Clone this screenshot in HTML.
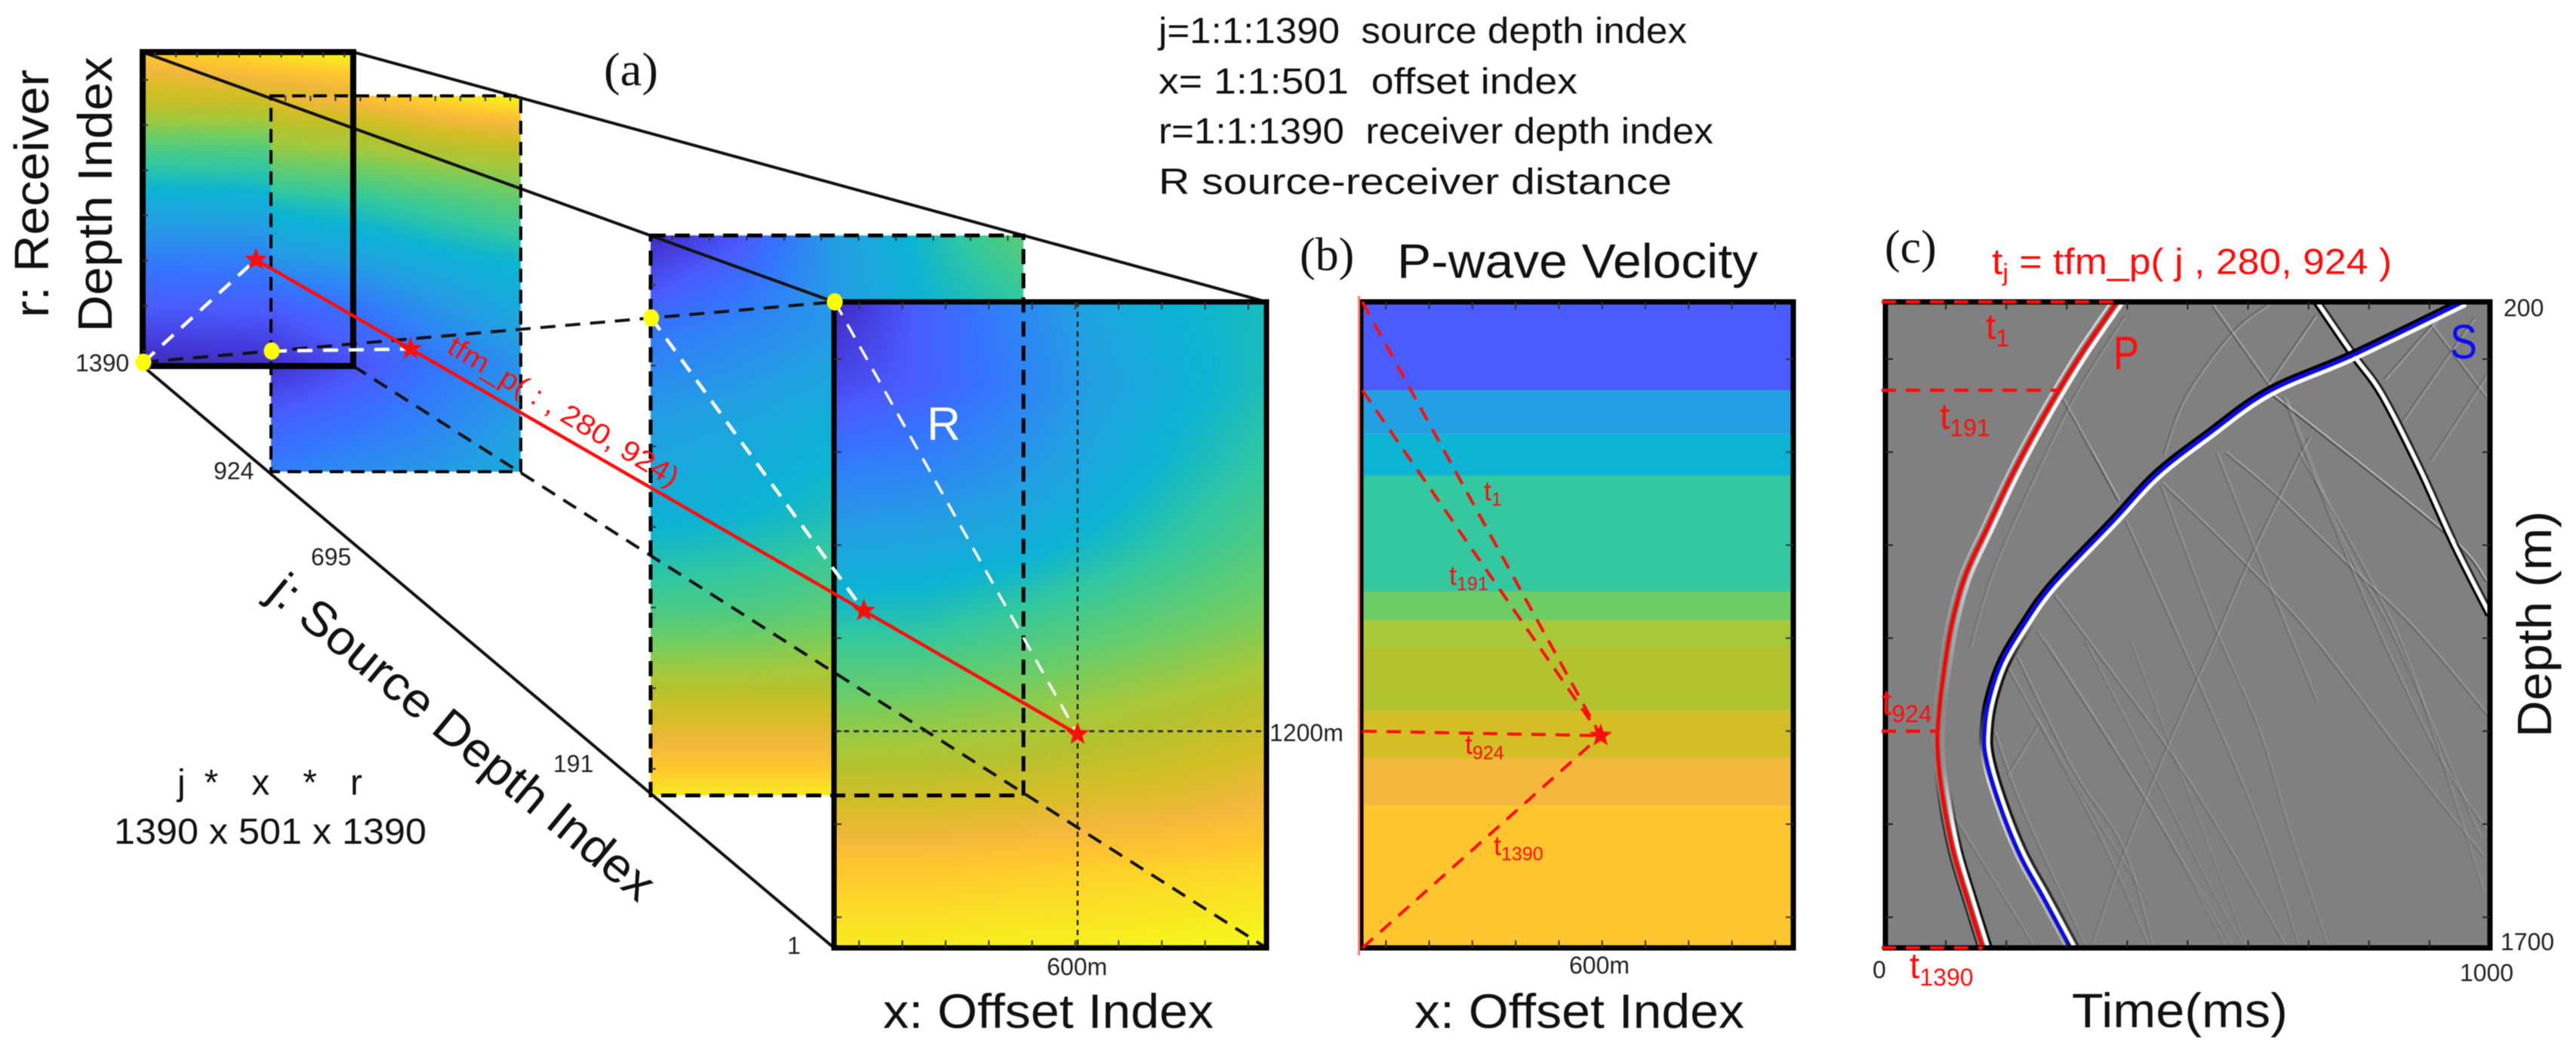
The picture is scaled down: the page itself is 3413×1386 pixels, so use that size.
<!DOCTYPE html>
<html lang="en">
<head>
<meta charset="utf-8">
<title>Travel-time table, P-wave velocity model and seismic gather</title>
<style>
html,body{margin:0;padding:0;background:#fff;width:3413px;height:1386px;overflow:hidden}
#stage{position:relative;width:3413px;height:1386px;filter:blur(.6px)}
canvas,svg{position:absolute;left:0;top:0}
text{font-family:"Liberation Sans",sans-serif;fill:#111}
.serif{font-family:"Liberation Serif",serif;font-size:62px}
.axis{font-size:64px}
.tick{font-size:32px;fill:#222}
.note{font-size:48px}
.red{fill:#ff0d0d}
</style>
</head>
<body>
<div id="stage">
<canvas id="fields" width="3413" height="1386"></canvas>
<svg id="plot" width="3413" height="1386" viewBox="0 0 3413 1386" xmlns="http://www.w3.org/2000/svg">
  <defs>
    <clipPath id="gatherClip"><rect x="2498" y="400" width="801" height="856"/></clipPath>
    <linearGradient id="fadeGrad" gradientUnits="userSpaceOnUse" x1="0" y1="400" x2="0" y2="1256">
      <stop offset="0" stop-color="#fff"/><stop offset=".45" stop-color="#ccc"/><stop offset="1" stop-color="#666"/>
    </linearGradient>
    <mask id="fadeMask" maskUnits="userSpaceOnUse" x="2498" y="400" width="801" height="856">
      <rect x="2498" y="400" width="801" height="856" fill="url(#fadeGrad)"/>
    </mask>
    <linearGradient id="pRightLight" gradientUnits="userSpaceOnUse" x1="0" y1="400" x2="0" y2="1256">
      <stop offset="0" stop-color="#fff" stop-opacity=".95"/><stop offset=".35" stop-color="#fff" stop-opacity=".85"/><stop offset=".5" stop-color="#fff" stop-opacity=".35"/><stop offset=".62" stop-color="#fff" stop-opacity=".08"/><stop offset=".72" stop-color="#fff" stop-opacity=".15"/><stop offset=".82" stop-color="#fff" stop-opacity=".95"/><stop offset="1" stop-color="#fff" stop-opacity="1"/>
    </linearGradient>
    <linearGradient id="pLeftLight" gradientUnits="userSpaceOnUse" x1="0" y1="400" x2="0" y2="1256">
      <stop offset="0" stop-color="#fff" stop-opacity=".7"/><stop offset=".35" stop-color="#fff" stop-opacity=".45"/><stop offset=".55" stop-color="#fff" stop-opacity=".12"/><stop offset=".7" stop-color="#fff" stop-opacity="0"/><stop offset="1" stop-color="#fff" stop-opacity="0"/>
    </linearGradient>
    <linearGradient id="pLeftDark" gradientUnits="userSpaceOnUse" x1="0" y1="400" x2="0" y2="1256">
      <stop offset="0" stop-color="#000" stop-opacity="0"/><stop offset=".72" stop-color="#000" stop-opacity="0"/><stop offset=".8" stop-color="#000" stop-opacity=".6"/><stop offset="1" stop-color="#000" stop-opacity=".7"/>
    </linearGradient>
    <linearGradient id="pRightDark" gradientUnits="userSpaceOnUse" x1="0" y1="400" x2="0" y2="1256">
      <stop offset="0" stop-color="#000" stop-opacity="0"/><stop offset=".75" stop-color="#000" stop-opacity="0"/><stop offset=".85" stop-color="#000" stop-opacity=".8"/><stop offset="1" stop-color="#000" stop-opacity=".9"/>
    </linearGradient>
    <linearGradient id="sLeftDark" gradientUnits="userSpaceOnUse" x1="0" y1="400" x2="0" y2="1256">
      <stop offset="0" stop-color="#000" stop-opacity="1"/><stop offset=".62" stop-color="#000" stop-opacity="1"/><stop offset=".7" stop-color="#000" stop-opacity=".1"/><stop offset="1" stop-color="#000" stop-opacity="0"/>
    </linearGradient>
    <linearGradient id="sLeftLight" gradientUnits="userSpaceOnUse" x1="0" y1="400" x2="0" y2="1256">
      <stop offset="0" stop-color="#fff" stop-opacity="0"/><stop offset=".68" stop-color="#fff" stop-opacity="0"/><stop offset=".74" stop-color="#fff" stop-opacity=".75"/><stop offset="1" stop-color="#fff" stop-opacity=".35"/>
    </linearGradient>
    <linearGradient id="sRightDark" gradientUnits="userSpaceOnUse" x1="0" y1="400" x2="0" y2="1256">
      <stop offset="0" stop-color="#000" stop-opacity="0"/><stop offset=".5" stop-color="#000" stop-opacity="0"/><stop offset=".56" stop-color="#000" stop-opacity=".8"/><stop offset=".7" stop-color="#000" stop-opacity=".9"/><stop offset="1" stop-color="#000" stop-opacity=".55"/>
    </linearGradient>
  </defs>

  <!-- panel (a) prism edges -->
  <g fill="none" stroke="#111">
    <line x1="189" y1="69" x2="1105" y2="400" stroke-width="4"/>
    <line x1="468" y1="69" x2="1678" y2="400" stroke-width="4"/>
    <line x1="189" y1="485" x2="1105" y2="1256" stroke-width="4"/>
    <line x1="468" y1="485" x2="1678" y2="1256" stroke-width="4" stroke-dasharray="20 13"/>
    <line x1="190" y1="480" x2="1106" y2="400" stroke-width="4" stroke-dasharray="20 13"/>
  </g>
  <g fill="none" stroke="#000">
    <rect x="189" y="69" width="279" height="416" stroke-width="8"/>
    <rect x="359" y="127" width="331" height="498" stroke-width="4" stroke-dasharray="18 10"/>
    <rect x="862" y="312" width="494" height="742" stroke-width="5" stroke-dasharray="20 12"/>
    <rect x="1105" y="400" width="573" height="856" stroke-width="7"/>
  </g>
  <g id="sliceTicks"></g>
  <g id="sliceGuides"></g>
  <g id="sliceRays"></g>

  <!-- panel (b) -->
  <g id="velocityBands"></g>
  <rect x="1803" y="400" width="573" height="856" fill="none" stroke="#000" stroke-width="7"/>
  <line x1="1800.5" y1="392" x2="1800.5" y2="1266" stroke="#ff7a7a" stroke-width="3"/>
  <g id="velocityTicks"></g>
  <g id="velocityRays"></g>

  <!-- panel (c) -->
  <rect x="2498" y="400" width="801" height="856" fill="#808080"/>
  <g clip-path="url(#gatherClip)">
    <g id="gatherEvents" mask="url(#fadeMask)"></g>
  </g>
  <g id="gatherMain" clip-path="url(#gatherClip)"></g>
  <g id="gatherPicks" clip-path="url(#gatherClip)"></g>
  <rect x="2498" y="400" width="801" height="856" fill="none" stroke="#000" stroke-width="7"/>
  <g id="gatherTicks"></g>
  <g id="gatherGuides"></g>

  <!-- text -->
  <text class="serif" x="800" y="113" textLength="72" lengthAdjust="spacingAndGlyphs">(a)</text>
  <text class="serif" x="1722" y="358">(b)</text>
  <text class="serif" x="2497" y="348">(c)</text>

  <text class="note" x="1535" y="57" textLength="700" lengthAdjust="spacingAndGlyphs" xml:space="preserve">j=1:1:1390  source depth index</text>
  <text class="note" x="1535" y="124" textLength="555" lengthAdjust="spacingAndGlyphs" xml:space="preserve">x= 1:1:501  offset index</text>
  <text class="note" x="1535" y="190" textLength="735" lengthAdjust="spacingAndGlyphs" xml:space="preserve">r=1:1:1390  receiver depth index</text>
  <text class="note" x="1535" y="257" textLength="680" lengthAdjust="spacingAndGlyphs">R source-receiver distance</text>

  <text class="axis" transform="translate(64,421) rotate(-90)" textLength="329" lengthAdjust="spacingAndGlyphs">r: Receiver</text>
  <text class="axis" transform="translate(148,440) rotate(-90)" textLength="365" lengthAdjust="spacingAndGlyphs">Depth Index</text>
  <text class="axis" transform="translate(352,790) rotate(39.5)" textLength="640" lengthAdjust="spacingAndGlyphs">j: Source Depth Index</text>
  <text class="axis" x="1170" y="1362" textLength="438" lengthAdjust="spacingAndGlyphs">x: Offset Index</text>
  <text class="axis" x="1874" y="1362" textLength="437" lengthAdjust="spacingAndGlyphs">x: Offset Index</text>
  <text class="axis" x="1851" y="368" textLength="478" lengthAdjust="spacingAndGlyphs">P-wave Velocity</text>
  <text class="axis" x="2745" y="1361" textLength="286" lengthAdjust="spacingAndGlyphs">Time(ms)</text>
  <text class="axis" transform="translate(3380,977) rotate(-90)" textLength="300" lengthAdjust="spacingAndGlyphs">Depth (m)</text>

  <text class="note" x="235" y="1053" textLength="245" lengthAdjust="spacing" xml:space="preserve">j *  x  *  r</text>
  <text class="note" x="151" y="1118" textLength="414" lengthAdjust="spacingAndGlyphs">1390 x 501 x 1390</text>

  <text class="tick" x="100" y="492">1390</text>
  <text class="tick" x="283" y="635">924</text>
  <text class="tick" x="412" y="749">695</text>
  <text class="tick" x="733" y="1023">191</text>
  <text class="tick" x="1043" y="1264">1</text>
  <text class="tick" x="1682" y="982">1200m</text>
  <text class="tick" x="1387" y="1292">600m</text>
  <text class="tick" x="2079" y="1290">600m</text>
  <text class="tick" x="3317" y="419">200</text>
  <text class="tick" x="3313" y="1259">1700</text>
  <text class="tick" x="2481" y="1296">0</text>
  <text class="tick" x="3259" y="1300">1000</text>

  <text x="1228" y="583" font-size="62" style="fill:#fff">R</text>
  <text class="red" transform="translate(590,466) rotate(31)" font-size="38" textLength="350" lengthAdjust="spacingAndGlyphs" xml:space="preserve">tfm_p( : , 280, 924)</text>

  <text class="red" x="1966" y="663" font-size="36">t<tspan font-size="25" dy="7">1</tspan></text>
  <text class="red" x="1920" y="775" font-size="36">t<tspan font-size="25" dy="7">191</tspan></text>
  <text class="red" x="1941" y="999" font-size="36">t<tspan font-size="25" dy="7">924</tspan></text>
  <text class="red" x="1979" y="1133" font-size="36">t<tspan font-size="25" dy="7">1390</tspan></text>

  <text class="red" x="2639" y="363" font-size="48" textLength="530" lengthAdjust="spacingAndGlyphs">t<tspan font-size="32" dy="9">j</tspan><tspan dy="-9"> = tfm_p( j , 280, 924 )</tspan></text>
  <text class="red" x="2631" y="449" font-size="48">t<tspan font-size="32" dy="10">1</tspan></text>
  <text class="red" x="2570" y="568" font-size="48">t<tspan font-size="32" dy="10">191</tspan></text>
  <text class="red" x="2493" y="947" font-size="48">t<tspan font-size="32" dy="10">924</tspan></text>
  <text class="red" x="2530" y="1296" font-size="48">t<tspan font-size="32" dy="10">1390</tspan></text>
  <text class="red" x="2800" y="489" font-size="62" textLength="34" lengthAdjust="spacingAndGlyphs">P</text>
  <text x="3246" y="475" font-size="64" textLength="36" lengthAdjust="spacingAndGlyphs" style="fill:#0a0aff">S</text>
</svg>
</div>

<script>
/* ---------- data ---------- */
// Normalised travel-time grids: rows run top to bottom, columns left to right.
const fieldJ1390 = [
  [.94,.97,1.0],
  [.84,.85,.87],
  [.62,.63,.65],
  [.46,.47,.49],
  [.30,.31,.33],
  [.17,.18,.20],
  [.02,.04,.07]
];
const fieldJ924 = [
  [.90,.93,.97,1.0],
  [.76,.78,.82,.84],
  [.55,.58,.63,.68],
  [.40,.44,.50,.54],
  [.18,.27,.38,.47],
  [.05,.16,.28,.38],
  [.20,.26,.33,.42],
  [.31,.36,.40,.47]
];
const fieldJ191 = [
  [.03,.18,.42,.55,.68],
  [.28,.34,.40,.52,.56],
  [.42,.45,.50,.58,.68],
  [.50,.52,.56,.62,.72],
  [.64,.65,.68,.72,.78],
  [.85,.85,.85,.86,.87],
  [.98,.98,.98,.98,.98]
];
const fieldJ1 = [
  [.02,.20,.32,.45,.52,.55],
  [.13,.20,.30,.42,.50,.56],
  [.30,.32,.38,.46,.54,.60],
  [.44,.45,.48,.54,.60,.66],
  [.58,.58,.62,.66,.70,.74],
  [.72,.73,.75,.78,.81,.84],
  [.85,.85,.86,.87,.88,.90],
  [.94,.94,.945,.95,.955,.96],
  [.985,.985,.99,.99,.995,1.0]
];

// Layered P-wave velocity model
const layerBaseDepths = [405,507,603,873,939,1001,1151,1260,1370,1700];
const layerVelocities = [2070,2760,3060,3300,3630,3870,3960,4110,4230,4320];

// Acquisition indices
const offsetIndex = 280;
const receiverIndex = 924;
const raySourceIndices = [1,191,924,1390];
const offsetTickIndices = [30,80,130,180,230,280,330,380,430,480];
const depthTickIndices = [124,324,524,724,924,1124,1324];
const timeTicks = [100,200,300,400,500,600,700,800,900];

// First-arrival picks: time in ms, depth in m
const pPickTimes  = [383,327,283,242,205,168,132,109,95,88,86,92,111,136,161];
const pPickDepths = [200,314,414,515,615,726,836,953,1076,1164,1229,1323,1469,1588,1700];
const sPickTimes  = [955,774,635,534,448,377,276,227,192,172,164,166,190,223,261,306];
const sPickDepths = [200,323,407,507,601,708,857,953,1037,1120,1190,1258,1372,1486,1583,1700];
const downgoingTimes  = [714,774,821,884,941,999];
const downgoingDepths = [200,323,414,587,763,924];

// Converted and reflected events: [times], [depths], strength
const eventTimes = [
  [639,926,994],[564,648,764,876,999],[458,597,710,855,989],[398,514,618,683],
  [281,377,468,552,664],[456,543,618,668,733],[340,393,464,544,598,680,702],
  [461,497,573,635],[635,712],[542,635],[295,386],[218,311,393,443],
  [265,393,498,573],[331,436,539,595],[202,343,436],[181,227,331],[202,252],
  [115,243],[406,487,597],[903,994],[826,936],[855,974],[903,994],
  [664,759,845,984],[659,735,816,914,994],[685,805,876,989],[548,614,714],
  [252,336,461,564],[252,336,439],[343,386],[396,317,243,177,140]
];
const eventDepths = [
  [414,736,848],[550,650,808,959,1164],[620,810,983,1251,1486],[708,1071,1414,1694],
  [883,1064,1239,1426,1700],[626,948,1193,1426,1700],[1700,1486,1241,988,813,573,515],
  [554,421,274,205],[389,233],[209,393],[428,661],[1023,1288,1467,1700],
  [988,1270,1516,1696],[988,1276,1563,1700],[1048,1407,1696],[1199,1377,1696],[1300,1186],
  [1397,1689],[988,1288,1696],[253,421],[380,205],[480,239],[568,373],
  [428,762,988,1444],[421,696,964,1251,1426],[550,853,1076,1567],[550,783,1129],
  [966,1146,1426,1700],[1169,1369,1602],[550,661],[235,410,620,831,1006]
];
const eventStrengths = [.85,.45,.4,.35,.4,.3,.35,.35,.45,.5,.45,.4,.3,.25,.35,.4,.35,.4,.2,.4,.4,.35,.3,.3,.35,.3,.3,.3,.25,.35,.25];

/* ---------- scales ---------- */
const SVGNS = 'http://www.w3.org/2000/svg';
const svgEl = function(tag){ return document.createElementNS(SVGNS, tag); };
const gatherX = function(t){ return 2498 + t/1000*801; };
const gatherY = function(d){ return 400 + (d-200)/1500*856; };
const frontX = function(i){ return 1105 + (i-1)/500*573; };
const modelX = function(i){ return 1803 + (i-1)/500*573; };
const indexY = function(r){ return 400 + (r-1)/1389*856; };

const stopValues = [0,.08,.19,.28,.42,.52,.60,.71,.79,.82,.87,.91,.94,1];
const stopColors = [[62,38,168],[68,56,216],[74,92,255],[53,117,255],[35,159,227],[12,179,211],[51,200,159],[108,205,101],[168,200,58],[179,194,47],[211,190,37],[243,184,60],[255,198,47],[245,250,26]];
function colormap(v){
  v = Math.max(0,Math.min(1,v));
  let k = 0;
  while(k < stopValues.length-2 && v > stopValues[k+1]) k++;
  const f = (v-stopValues[k])/(stopValues[k+1]-stopValues[k]);
  return [0,1,2].map(function(c){ return stopColors[k][c]+(stopColors[k+1][c]-stopColors[k][c])*f; });
}

/* ---------- panel (a) fields ---------- */
const ctx = document.getElementById('fields').getContext('2d');
ctx.fillStyle = '#fff';
ctx.fillRect(0,0,3413,1386);
function paintField(grid,x0,y0,x1,y1){
  const w = x1-x0, h = y1-y0, img = ctx.createImageData(w,h);
  const rows = grid.length-1, cols = grid[0].length-1;
  for(let py=0; py<h; py++){
    const gy = py/(h-1)*rows, r0 = Math.min(Math.floor(gy),rows-1), fy = gy-r0;
    for(let px=0; px<w; px++){
      const gx = px/(w-1)*cols, c0 = Math.min(Math.floor(gx),cols-1), fx = gx-c0;
      const v = (grid[r0][c0]*(1-fx)+grid[r0][c0+1]*fx)*(1-fy)+(grid[r0+1][c0]*(1-fx)+grid[r0+1][c0+1]*fx)*fy;
      const col = colormap(v), o = (py*w+px)*4;
      img.data[o]=col[0]; img.data[o+1]=col[1]; img.data[o+2]=col[2]; img.data[o+3]=255;
    }
  }
  ctx.putImageData(img,x0,y0);
}
paintField(fieldJ1390,189,69,468,485);
paintField(fieldJ924,359,127,690,625);
paintField(fieldJ191,862,312,1356,1054);
paintField(fieldJ1,1105,400,1678,1256);

/* ---------- helpers ---------- */
function starPoints(cx,cy,r){
  const pts = [];
  for(let i=0;i<10;i++){
    const a = -Math.PI/2 + i*Math.PI/5, q = i%2 ? r*.42 : r;
    pts.push((cx+q*Math.cos(a)).toFixed(1)+','+(cy+q*Math.sin(a)).toFixed(1));
  }
  return pts.join(' ');
}
function smoothPath(xs,ys){
  let d = 'M'+xs[0].toFixed(1)+' '+ys[0].toFixed(1);
  for(let i=0;i<xs.length-1;i++){
    const a = Math.max(i-1,0), b = Math.min(i+2,xs.length-1);
    const c1x = xs[i]+(xs[i+1]-xs[a])/6, c1y = ys[i]+(ys[i+1]-ys[a])/6;
    const c2x = xs[i+1]-(xs[b]-xs[i])/6, c2y = ys[i+1]-(ys[b]-ys[i])/6;
    d += 'C'+c1x.toFixed(1)+' '+c1y.toFixed(1)+' '+c2x.toFixed(1)+' '+c2y.toFixed(1)+' '+xs[i+1].toFixed(1)+' '+ys[i+1].toFixed(1);
  }
  return d;
}
function addLine(parent,x1,y1,x2,y2,color,width,dash){
  const l = svgEl('line');
  l.setAttribute('x1',x1); l.setAttribute('y1',y1); l.setAttribute('x2',x2); l.setAttribute('y2',y2);
  l.setAttribute('stroke',color); l.setAttribute('stroke-width',width);
  if(dash) l.setAttribute('stroke-dasharray',dash);
  parent.appendChild(l);
  return l;
}
function addStar(parent,cx,cy,r){
  const s = svgEl('polygon');
  s.setAttribute('points',starPoints(cx,cy,r));
  s.setAttribute('fill','#ff0d0d');
  parent.appendChild(s);
  return s;
}
function addDot(parent,cx,cy){
  const c = svgEl('ellipse');
  c.setAttribute('cx',cx); c.setAttribute('cy',cy); c.setAttribute('rx',10.5); c.setAttribute('ry',11.5);
  c.setAttribute('fill','#ffff00');
  parent.appendChild(c);
  return c;
}
function drawTicks(parent,x0,y0,x1,y1,len,sides){
  const w = x1-x0, h = y1-y0;
  offsetTickIndices.forEach(function(i){
    const x = x0+(i-1)/500*w;
    if(sides.indexOf('t')>=0){
      const t = addLine(parent,x,y0,x,y0+len,'#333',2);
      
      
    }
    if(sides.indexOf('b')>=0){
      const t = addLine(parent,x,y1,x,y1-len,'#333',2);
      
      
    }
  });
  depthTickIndices.forEach(function(r){
    const y = y0+(r-1)/1389*h;
    if(sides.indexOf('l')>=0){
      const t = addLine(parent,x0,y,x0+len,y,'#333',2);
      
      
    }
    if(sides.indexOf('r')>=0){
      const t = addLine(parent,x1,y,x1-len,y,'#333',2);
      
      
    }
  });
}

/* ---------- panel (a) overlays ---------- */
const sliceTicks = document.getElementById('sliceTicks');
drawTicks(sliceTicks,189,69,468,485,7,'tl');
drawTicks(sliceTicks,359,127,690,625,7,'t');
drawTicks(sliceTicks,862,312,1356,1054,7,'tl');
drawTicks(sliceTicks,1105,400,1678,1256,10,'tbl');

const guides = document.getElementById('sliceGuides');
const frontStarX = frontX(offsetIndex)+3, frontStarY = indexY(receiverIndex)+4;
const guideV = addLine(guides,frontStarX,400,frontStarX,1256,'#222',2.5,'7 6');


const guideH = addLine(guides,1105,frontStarY-4,1678,frontStarY-4,'#222',2.5,'7 6');



const rays = document.getElementById('sliceRays');
const rayLine = addLine(rays,339,344,frontStarX,frontStarY,'#ff0d0d',4.5);


const sliceLeftX = function(f){ return 190+(1106-190)*f; };
const sliceLeftY = function(f){ return 480+(400-480)*f; };
const slicePoints = [0,.1856,.7345,1];
const sliceStars = [.0,.1883,.7399,1];
slicePoints.forEach(function(f,i){
  const px = sliceLeftX(f), py = sliceLeftY(f);
  const sx = 339+(frontStarX-339)*sliceStars[i], sy = 344+(frontStarY-344)*sliceStars[i];
  const w = addLine(rays,px,py,sx,sy,'#fff',i===3?3.5:4.5,'20 14');
  
  
  const st = addStar(rays,sx,sy,16);
  
  
  const dot = addDot(rays,px,py);
  
  
});

/* ---------- panel (b) ---------- */
const bandGroup = document.getElementById('velocityBands');
let bandTop = 200;
layerBaseDepths.forEach(function(base,i){
  const rect = svgEl('rect');
  const y0 = gatherY(bandTop), y1 = gatherY(base);
  const col = colormap((layerVelocities[i]-1500)/3000);
  rect.setAttribute('x',1803); rect.setAttribute('y',y0.toFixed(1));
  rect.setAttribute('width',573); rect.setAttribute('height',(y1-y0).toFixed(1));
  rect.setAttribute('fill','rgb('+col.map(Math.round).join(',')+')');
  
  
  bandGroup.appendChild(rect);
  bandTop = base;
});
drawTicks(document.getElementById('velocityTicks'),1803,400,2376,1256,10,'tbr');

const vRays = document.getElementById('velocityRays');
const modelStarX = modelX(offsetIndex)-2, modelStarY = indexY(receiverIndex)+6;
raySourceIndices.forEach(function(j){
  const l = addLine(vRays,1805,indexY(j),modelStarX,modelStarY,'#ff0d0d',4,'19 13');
  
  
});
const vStar = addStar(vRays,modelStarX,modelStarY,16);



/* ---------- panel (c) ---------- */
const eventGroup = document.getElementById('gatherEvents');
const mainGroup = document.getElementById('gatherMain');
const eventGain = 0.75;
function addCurve(parent,times,depths,color,width,shift,opacity){
  const xs = times.map(gatherX), ys = depths.map(gatherY);
  const ox = [], oy = [];
  xs.forEach(function(x,i){
    const a = Math.max(i-1,0), b = Math.min(i+1,xs.length-1);
    const dx = xs[b]-xs[a], dy = ys[b]-ys[a], len = Math.hypot(dx,dy)||1;
    const nx = Math.abs(dy)/len, ny = (dy>=0?-dx:dx)/len;
    ox.push(x+nx*shift);
    oy.push(ys[i]+ny*shift);
  });
  const p = svgEl('path');
  p.setAttribute('d',smoothPath(ox,oy));
  p.setAttribute('fill','none');
  p.setAttribute('stroke',color);
  p.setAttribute('stroke-width',width);
  p.setAttribute('stroke-linecap','round');
  p.setAttribute('opacity',opacity);
  parent.appendChild(p);
  return p;
}
eventTimes.forEach(function(times,i){
  const dark = addCurve(eventGroup,times,eventDepths[i],'#222',1.7,-1.5,eventStrengths[i]*eventGain);
  
  
  const light = addCurve(eventGroup,times,eventDepths[i],'#f4f4f4',1.7,1.5,eventStrengths[i]*eventGain*.9);
  
  
});
const dgDarkL = addCurve(mainGroup,downgoingTimes,downgoingDepths,'#000',3,-4.5,1);


const dgDarkR = addCurve(mainGroup,downgoingTimes,downgoingDepths,'#000',2.5,4.5,.75);


const dgLight = addCurve(mainGroup,downgoingTimes,downgoingDepths,'#fff',5,0,1);



const picks = document.getElementById('gatherPicks');
const pEarly = addCurve(picks,pPickTimes,pPickDepths,'url(#pLeftLight)',3,-6.5,1);


const pEarlyDark = addCurve(picks,pPickTimes,pPickDepths,'url(#pLeftDark)',2.5,-6,1);


const pDark = addCurve(picks,pPickTimes,pPickDepths,'url(#pRightDark)',3,11.5,1);


const pLight = addCurve(picks,pPickTimes,pPickDepths,'url(#pRightLight)',5,7,1);


const sDark = addCurve(picks,sPickTimes,sPickDepths,'url(#sLeftDark)',4,-4.5,1);


const sEarlyLight = addCurve(picks,sPickTimes,sPickDepths,'url(#sLeftLight)',3,-5,1);


const sDarkLate = addCurve(picks,sPickTimes,sPickDepths,'url(#sRightDark)',3.5,10.5,1);


const sLight = addCurve(picks,sPickTimes,sPickDepths,'#fff',5,5.5,1);


const pLine = addCurve(picks,pPickTimes,pPickDepths,'#ff0000',5,0,1);


const sLine = addCurve(picks,sPickTimes,sPickDepths,'#0a0aee',5,0,1);



const gTicks = document.getElementById('gatherTicks');
timeTicks.forEach(function(t){
  const top = addLine(gTicks,gatherX(t),400,gatherX(t),410,'#222',2);
  
  
  const bottom = addLine(gTicks,gatherX(t),1256,gatherX(t),1246,'#222',2);
  
  
});
depthTickIndices.forEach(function(r){
  const left = addLine(gTicks,2498,indexY(r),2508,indexY(r),'#222',2);
  
  
  const right = addLine(gTicks,3299,indexY(r),3289,indexY(r),'#222',2);
  
  
});

function pickTimeAtIndex(j){
  const d = 200 + (j-1)/1389*1500;
  for(let i=0;i<pPickDepths.length-1;i++){
    if(d<=pPickDepths[i+1]){
      const f = (d-pPickDepths[i])/(pPickDepths[i+1]-pPickDepths[i]);
      return pPickTimes[i]+(pPickTimes[i+1]-pPickTimes[i])*f;
    }
  }
  return pPickTimes[pPickTimes.length-1];
}
const gGuides = document.getElementById('gatherGuides');
raySourceIndices.forEach(function(j){
  const y = indexY(j);
  const g = addLine(gGuides,2493,y,gatherX(pickTimeAtIndex(j)),y,'#ff0d0d',4.5,'19 13');
  
  
});
</script>
</body>
</html>
